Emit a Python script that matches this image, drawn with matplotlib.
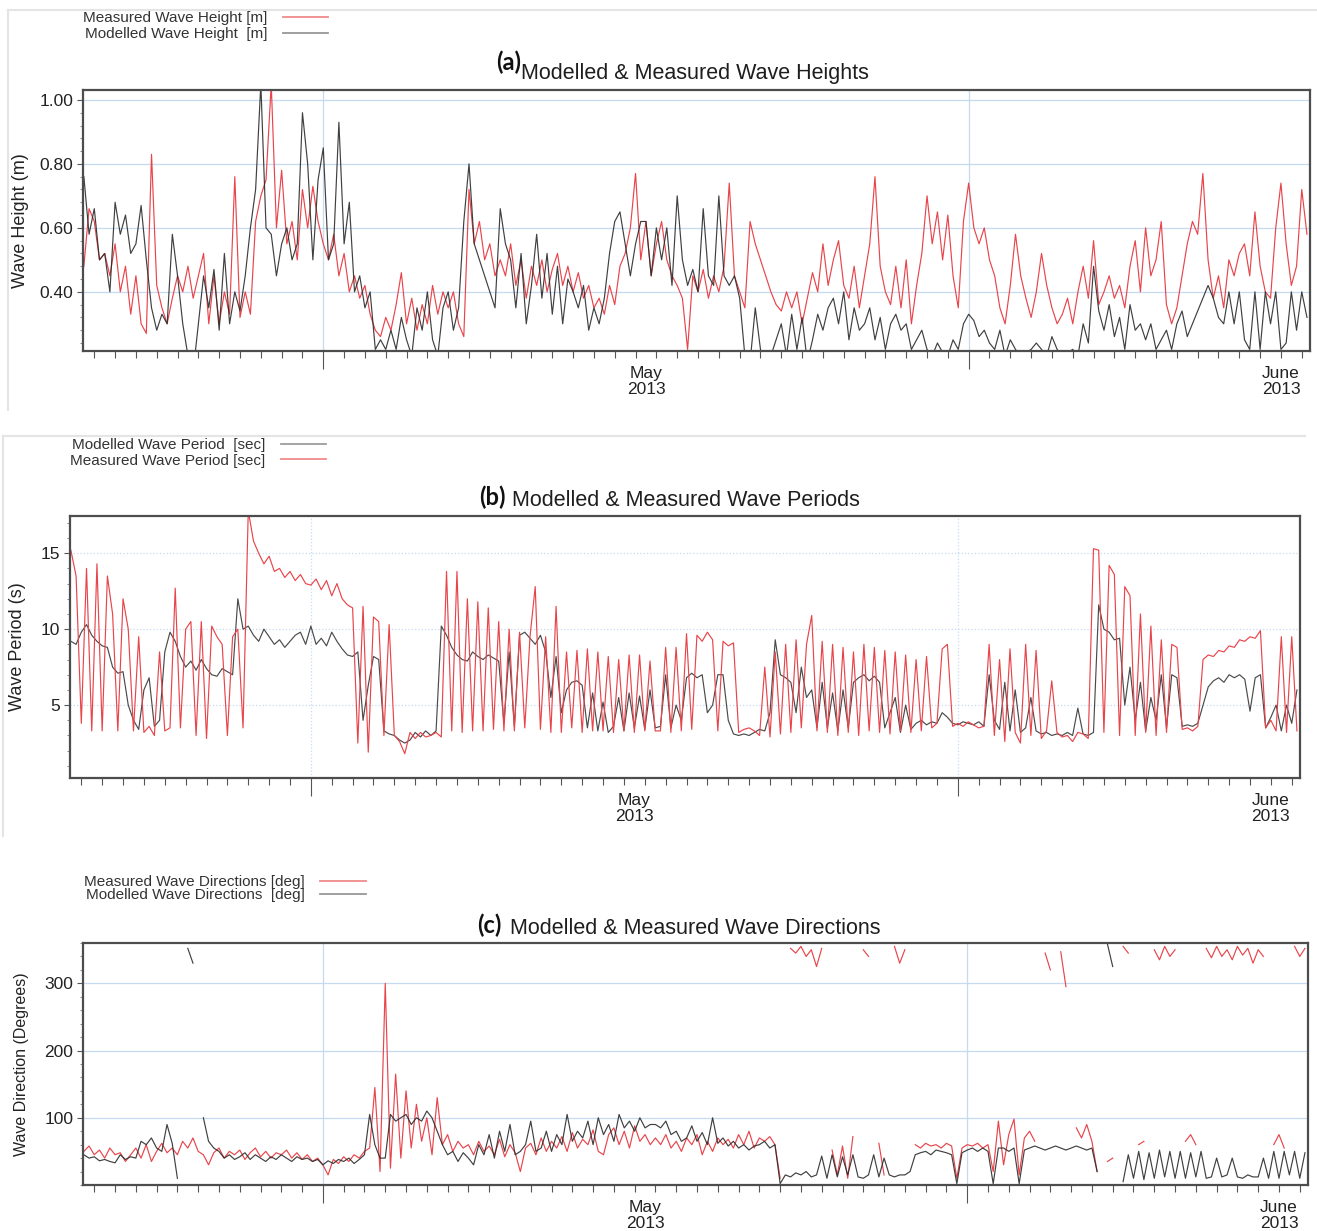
import numpy as np
import pandas as pd
import matplotlib
matplotlib.use("Agg")
import matplotlib.pyplot as plt
import matplotlib.dates as mdates
from matplotlib.ticker import AutoMinorLocator, FixedLocator, FormatStrFormatter, NullFormatter
from matplotlib.lines import Line2D

nan = np.nan

# 6-hourly samples from 4 Apr 2013 12:00 to 2 Jun 2013 06:00
times = pd.date_range("2013-04-04 12:00", periods=236, freq="6h")

# significant wave height [m]
height_meas = [
    0.48, 0.66, 0.62, 0.50, 0.52, 0.45, 0.55, 0.40, 0.48, 0.33,
    0.45, 0.30, 0.27, 0.83, 0.42, 0.35, 0.30, 0.38, 0.45, 0.40,
    0.48, 0.38, 0.45, 0.52, 0.30, 0.45, 0.30, 0.40, 0.33, 0.76,
    0.32, 0.40, 0.33, 0.62, 0.70, 0.75, 1.05, 0.60, 0.78, 0.55,
    0.62, 0.50, 0.72, 0.60, 0.73, 0.62, 0.55, 0.50, 0.58, 0.45,
    0.52, 0.40, 0.45, 0.38, 0.42, 0.33, 0.28, 0.26, 0.32, 0.28,
    0.36, 0.46, 0.30, 0.38, 0.28, 0.36, 0.30, 0.42, 0.33, 0.40,
    0.35, 0.40, 0.30, 0.26, 0.72, 0.55, 0.62, 0.50, 0.55, 0.45,
    0.50, 0.45, 0.55, 0.42, 0.50, 0.38, 0.48, 0.42, 0.50, 0.40,
    0.47, 0.52, 0.42, 0.48, 0.40, 0.46, 0.38, 0.42, 0.35, 0.38,
    0.33, 0.42, 0.36, 0.48, 0.52, 0.60, 0.77, 0.50, 0.62, 0.45,
    0.55, 0.62, 0.50, 0.45, 0.42, 0.38, 0.22, 0.45, 0.40, 0.47,
    0.38, 0.45, 0.40, 0.48, 0.74, 0.45, 0.40, 0.35, 0.62, 0.55,
    0.50, 0.45, 0.40, 0.36, 0.34, 0.40, 0.35, 0.40, 0.30, 0.38,
    0.46, 0.40, 0.55, 0.42, 0.50, 0.56, 0.42, 0.38, 0.48, 0.35,
    0.45, 0.55, 0.76, 0.48, 0.40, 0.36, 0.48, 0.35, 0.50, 0.30,
    0.42, 0.52, 0.70, 0.55, 0.65, 0.50, 0.64, 0.45, 0.35, 0.62,
    0.74, 0.60, 0.55, 0.60, 0.50, 0.45, 0.35, 0.30, 0.42, 0.58,
    0.45, 0.38, 0.32, 0.40, 0.52, 0.42, 0.35, 0.30, 0.33, 0.38,
    0.30, 0.40, 0.48, 0.38, 0.56, 0.36, 0.40, 0.45, 0.38, 0.42,
    0.35, 0.48, 0.56, 0.40, 0.60, 0.45, 0.50, 0.62, 0.36, 0.30,
    0.35, 0.45, 0.55, 0.62, 0.58, 0.77, 0.50, 0.38, 0.45, 0.35,
    0.50, 0.45, 0.52, 0.55, 0.45, 0.65, 0.48, 0.40, 0.38, 0.60,
    0.74, 0.55, 0.42, 0.48, 0.72, 0.58,
]
height_mod = [
    0.76, 0.58, 0.66, 0.50, 0.52, 0.40, 0.68, 0.58, 0.64, 0.52,
    0.55, 0.67, 0.50, 0.35, 0.28, 0.33, 0.30, 0.58, 0.45, 0.30,
    0.20, 0.15, 0.30, 0.45, 0.35, 0.47, 0.28, 0.52, 0.30, 0.40,
    0.34, 0.45, 0.60, 0.72, 1.05, 0.60, 0.58, 0.45, 0.55, 0.60,
    0.50, 0.55, 0.96, 0.80, 0.50, 0.75, 0.85, 0.50, 0.55, 0.93,
    0.55, 0.68, 0.40, 0.45, 0.35, 0.40, 0.22, 0.25, 0.22, 0.28,
    0.22, 0.32, 0.25, 0.20, 0.35, 0.28, 0.40, 0.25, 0.20, 0.35,
    0.40, 0.28, 0.35, 0.62, 0.80, 0.55, 0.50, 0.45, 0.40, 0.35,
    0.66, 0.55, 0.50, 0.35, 0.52, 0.30, 0.42, 0.58, 0.38, 0.52,
    0.33, 0.48, 0.30, 0.44, 0.40, 0.35, 0.42, 0.28, 0.35, 0.30,
    0.38, 0.52, 0.62, 0.65, 0.55, 0.45, 0.55, 0.62, 0.62, 0.45,
    0.60, 0.50, 0.60, 0.42, 0.70, 0.50, 0.42, 0.47, 0.40, 0.66,
    0.45, 0.42, 0.70, 0.45, 0.42, 0.45, 0.38, 0.20, 0.18, 0.35,
    0.22, 0.18, 0.20, 0.25, 0.30, 0.20, 0.33, 0.22, 0.32, 0.18,
    0.25, 0.33, 0.28, 0.35, 0.38, 0.30, 0.40, 0.25, 0.35, 0.28,
    0.30, 0.35, 0.25, 0.32, 0.22, 0.30, 0.33, 0.28, 0.30, 0.22,
    0.25, 0.28, 0.22, 0.20, 0.24, 0.21, 0.20, 0.25, 0.22, 0.30,
    0.33, 0.31, 0.26, 0.28, 0.24, 0.22, 0.28, 0.20, 0.25, 0.22,
    0.20, 0.21, 0.22, 0.24, 0.22, 0.20, 0.26, 0.22, 0.20, 0.21,
    0.22, 0.20, 0.30, 0.24, 0.48, 0.34, 0.28, 0.36, 0.26, 0.32,
    0.22, 0.36, 0.28, 0.30, 0.25, 0.30, 0.22, 0.25, 0.28, 0.22,
    0.30, 0.34, 0.26, 0.30, 0.34, 0.38, 0.42, 0.38, 0.32, 0.30,
    0.40, 0.30, 0.40, 0.25, 0.22, 0.40, 0.22, 0.40, 0.30, 0.40,
    0.22, 0.24, 0.40, 0.28, 0.40, 0.32,
]

# peak wave period [s]
period_meas = [
    15.2, 13.5, 3.8, 14.0, 3.3, 14.3, 3.3, 13.5, 11.0, 3.3,
    12.0, 10.0, 3.3, 9.5, 3.2, 3.6, 3.0, 8.5, 3.3, 3.5,
    12.7, 3.5, 10.0, 10.5, 3.0, 10.5, 2.8, 10.2, 9.5, 9.0,
    3.0, 9.5, 10.0, 3.5, 17.8, 15.8, 15.0, 14.3, 14.8, 13.8,
    14.0, 13.4, 13.8, 13.2, 13.6, 13.0, 12.9, 13.3, 12.6, 13.2,
    12.2, 13.0, 12.0, 11.6, 11.4, 2.5, 11.5, 1.9, 10.8, 10.5,
    3.0, 10.3, 3.0, 2.6, 1.8, 3.2, 2.8, 3.2, 2.9, 3.0,
    3.2, 2.9, 13.8, 3.3, 13.8, 3.2, 12.0, 3.3, 11.8, 3.3,
    11.4, 3.4, 10.5, 3.3, 10.0, 3.3, 9.8, 3.5, 9.5, 12.8,
    3.4, 9.5, 3.2, 11.5, 3.2, 8.5, 3.5, 8.6, 3.2, 8.7,
    3.3, 8.5, 3.3, 8.2, 3.2, 8.0, 3.3, 8.3, 3.2, 8.3,
    3.3, 7.9, 3.3, 3.3, 8.8, 3.2, 8.8, 3.3, 9.7, 3.4,
    9.6, 9.2, 9.8, 9.3, 3.3, 9.2, 8.9, 9.1, 3.2, 3.4,
    3.5, 3.3, 3.0, 7.5, 2.9, 8.5, 3.1, 9.0, 3.2, 9.3,
    3.5, 9.0, 10.9, 3.3, 9.2, 3.2, 9.0, 3.0, 8.8, 3.2,
    8.5, 3.0, 9.0, 3.3, 8.8, 3.2, 8.6, 3.1, 8.5, 3.3,
    8.3, 3.2, 8.0, 3.3, 8.2, 3.5, 3.8, 8.7, 9.0, 3.6,
    3.8, 3.6, 3.9, 3.7, 3.5, 3.6, 9.0, 3.0, 8.0, 2.6,
    8.7, 3.2, 2.5, 9.0, 3.0, 8.6, 2.8, 3.3, 6.6, 3.2,
    2.9, 3.0, 2.6, 3.2, 3.1, 2.8, 15.3, 15.2, 3.2, 14.2,
    13.6, 3.0, 12.8, 12.2, 3.0, 11.0, 3.2, 10.2, 3.0, 9.3,
    3.2, 9.0, 8.8, 3.4, 3.5, 3.3, 3.6, 8.0, 8.3, 8.2,
    8.6, 8.5, 8.9, 8.8, 9.3, 9.2, 9.5, 9.4, 9.9, 3.5,
    4.0, 3.3, 9.5, 3.2, 9.5, 3.3,
]
period_mod = [
    9.2, 9.0, 9.8, 10.3, 9.6, 9.2, 8.9, 8.8, 7.5, 7.1,
    7.2, 5.0, 4.0, 3.4, 6.0, 6.8, 3.6, 4.0, 8.5, 9.8,
    9.2, 8.2, 7.5, 7.9, 7.3, 8.0, 7.4, 7.0, 6.9, 7.4,
    7.2, 7.0, 12.0, 10.0, 10.2, 9.6, 9.2, 10.0, 9.5, 9.0,
    9.3, 8.8, 9.2, 9.6, 9.8, 9.0, 10.2, 9.0, 9.4, 8.9,
    9.8, 9.2, 8.7, 8.3, 8.2, 8.5, 4.0, 6.3, 8.2, 8.0,
    3.3, 3.1, 3.0, 2.7, 2.5, 2.7, 3.2, 2.9, 3.3, 3.0,
    3.3, 10.2, 9.6, 8.8, 8.3, 8.0, 7.9, 8.5, 8.2, 8.0,
    8.3, 8.1, 7.9, 3.8, 8.5, 3.6, 9.6, 9.8, 9.4, 9.0,
    9.6, 8.5, 5.5, 8.2, 4.5, 6.0, 6.5, 6.6, 6.3, 3.5,
    5.8, 3.3, 5.2, 3.2, 3.6, 5.5, 3.3, 5.8, 3.5, 5.6,
    3.4, 6.0, 3.5, 3.6, 7.0, 3.5, 5.0, 4.0, 6.8, 7.1,
    6.8, 7.0, 4.5, 5.0, 7.0, 7.0, 4.0, 3.1, 3.0, 3.1,
    3.0, 3.2, 3.4, 3.3, 4.5, 9.3, 7.0, 6.8, 6.5, 4.5,
    7.5, 5.5, 6.0, 3.5, 6.5, 3.5, 5.8, 3.3, 6.0, 3.5,
    6.5, 6.8, 7.0, 6.6, 6.9, 6.5, 3.5, 4.5, 5.5, 3.2,
    5.0, 3.4, 3.8, 4.0, 3.7, 3.9, 3.8, 4.5, 4.2, 3.8,
    3.7, 3.9, 3.8, 3.7, 3.9, 3.6, 7.0, 4.0, 3.4, 6.5,
    3.3, 6.0, 3.2, 3.5, 5.5, 3.3, 3.1, 3.2, 3.0, 3.1,
    3.0, 3.2, 3.0, 4.8, 3.1, 3.0, 3.2, 11.6, 10.0, 9.8,
    9.3, 9.4, 5.0, 7.5, 4.0, 6.5, 3.3, 5.5, 4.0, 7.0,
    3.5, 7.0, 6.8, 3.6, 3.7, 3.6, 3.8, 5.0, 6.2, 6.6,
    6.8, 6.5, 7.0, 6.8, 7.0, 6.7, 4.6, 6.8, 7.0, 3.5,
    4.2, 5.0, 3.3, 5.0, 3.8, 6.0,
]

# mean wave direction [deg]; nan = no record
dir_meas = [
    50, 58, 45, 52, 40, 55, 45, 48, 35, 45,
    55, 40, 60, 35, 50, 62, 48, 55, 45, 65,
    55, 70, 50, 45, 30, 48, 55, 40, 50, 45,
    52, 38, 48, 55, 42, 50, 40, 48, 45, 52,
    40, 48, 38, 45, 35, 40, 30, 15, 38, 32,
    42, 35, 45, 40, 50, 55, 145, 20, 300, 25,
    165, 40, 140, 55, 120, 65, 100, 45, 130, 60,
    75, 50, 65, 55, 60, 45, 65, 50, 58, 45,
    68, 42, 60, 48, 20, 55, 62, 45, 70, 50,
    65, 55, 72, 50, 78, 55, 68, 60, 82, 50,
    45, 75, 85, 60, 80, 55, 88, 65, 75, 60,
    70, 60, 75, 55, 65, 50, 70, 60, 75, 45,
    65, 50, 70, 60, 68, 55, 75, 60, 80, 55,
    70, 65, 72, 60, 10, nan, 352, 345, 355, 340,
    350, 325, 352, nan, 52, 15, 58, 10, 72, nan,
    350, 340, nan, 62, 15, nan, 355, 330, 350, nan,
    60, 55, 62, 58, 60, 55, 62, 58, 10, 55,
    60, 58, 62, 55, 60, 20, 95, 30, 75, 98,
    15, 70, 80, 65, nan, 345, 320, nan, 347, 295,
    nan, 85, 70, 90, 65, 20, nan, 35, 40, nan,
    355, 345, nan, 60, 65, nan, 350, 335, 355, 340,
    350, nan, 65, 75, 60, nan, 352, 338, 355, 340,
    350, 335, 355, 342, 352, 330, 350, 340, nan, 60,
    75, 55, nan, 355, 340, 352,
]
dir_mod = [
    45, 40, 42, 36, 38, 35, 33, 45, 38, 42,
    40, 65, 60, 70, 55, 50, 90, 62, 10, nan,
    352, 330, nan, 100, 65, 55, 50, 40, 45, 38,
    42, 48, 38, 45, 40, 35, 42, 38, 45, 40,
    35, 42, 38, 40, 35, 38, 30, 36, 32, 38,
    35, 40, 32, 38, 45, 105, 60, 40, 40, 105,
    95, 100, 105, 90, 100, 95, 110, 100, 80, 60,
    45, 50, 35, 48, 40, 30, 60, 45, 75, 40,
    80, 50, 90, 45, 50, 60, 95, 50, 55, 80,
    50, 75, 60, 105, 65, 80, 70, 95, 60, 100,
    75, 90, 65, 105, 85, 95, 80, 100, 85, 90,
    90, 85, 95, 75, 80, 65, 70, 88, 65, 78,
    60, 100, 62, 70, 58, 65, 55, 60, 52, 58,
    60, 65, 55, 60, 2, 15, 12, 18, 15, 20,
    12, 15, 43, 10, 45, 12, 42, 15, 45, 12,
    10, 15, 45, 12, 40, 15, 12, 15, 15, 20,
    45, 48, 50, 45, 52, 50, 48, 45, 2, 48,
    52, 55, 50, 55, 50, 2, 55, 55, 50, 55,
    2, 52, 55, 58, 55, 52, 55, 58, 55, 52,
    55, 58, 55, 52, 55, 20, nan, 358, 325, nan,
    5, 45, 10, 50, 8, 48, 10, 52, 12, 50,
    10, 50, 10, 48, 12, 50, 10, 12, 40, 12,
    15, 40, 12, 10, 15, 12, 12, 40, 10, 50,
    10, 50, 15, 50, 10, 48,
]

# time axis furniture
x_range = ["2013-04-04 11:00", "2013-06-02 09:30"]
grid_dates = ["2013-04-16", "2013-05-17"]
day_ticks = pd.date_range("2013-04-05", "2013-06-02", freq="D")
month_dates = ["2013-05-01 12:00", "2013-06-01 00:00"]
month_labels = ["May\n2013", "June\n2013"]

W, H = 1317, 1231
RED = "#e8454b"
DARK = "#2b2b2b"
GRID = "#c6daf2"

plt.rcParams["font.family"] = ["Liberation Sans", "DejaVu Sans"]


def dnum(d):
    return mdates.date2num(pd.to_datetime(d).values)


def px_box(left, top, right, bottom):
    return [left / W, 1 - bottom / H, (right - left) / W, (bottom - top) / H]


def fx(x):
    return x / W


def fy(y):
    return 1 - y / H


def style_axes(ax, ylim, yticks, yfmt, grid_ls):
    ax.set_xlim(*dnum(x_range))
    ax.set_ylim(*ylim)
    ax.xaxis.set_major_locator(FixedLocator(dnum(grid_dates)))
    ax.xaxis.set_minor_locator(FixedLocator(dnum(day_ticks)))
    ax.xaxis.set_major_formatter(NullFormatter())
    ax.set_yticks(yticks)
    ax.yaxis.set_major_formatter(FormatStrFormatter(yfmt))
    ax.yaxis.set_minor_locator(AutoMinorLocator(5))
    ax.tick_params(axis="x", which="major", length=13, width=0.8, color="#555555")
    ax.tick_params(axis="x", which="minor", length=5, width=0.8, color="#555555")
    ax.tick_params(axis="y", which="major", length=4, width=0.8, color="#555555",
                   labelsize=12.5, labelcolor="#222222", pad=3)
    ax.tick_params(axis="y", which="minor", length=2.5, width=0.6, color="#777777")
    ax.grid(True, which="major", color=GRID, lw=0.9, ls=grid_ls)
    for s in ax.spines.values():
        s.set_color("#4d4d4d")
        s.set_linewidth(1.6)
    for d, lab in zip(dnum(month_dates), month_labels):
        ax.annotate(lab, xy=(d, 0), xycoords=("data", "axes fraction"),
                    xytext=(0, -11), textcoords="offset points",
                    ha="center", va="top", fontsize=12.5, color="#222222",
                    linespacing=1.05)


def add_legend(ax, handles, labels, left, top, spacing):
    leg = ax.legend(handles, labels, loc="upper left",
                    bbox_to_anchor=(fx(left), fy(top)), bbox_transform=fig.transFigure,
                    frameon=False, markerfirst=False, fontsize=11,
                    handlelength=3.0, handletextpad=1.0, borderpad=0,
                    borderaxespad=0, labelspacing=spacing)
    for t in leg.get_texts():
        t.set_color("#333333")
    for ln in leg.get_lines():
        ln.set_linewidth(1.3)
        ln.set_color("#f08a8a" if ln.get_color() == RED else "#8c8c8c")
    return leg


def add_title(tag, text, tag_right, tag_y, text_left, text_y):
    fig.text(fx(tag_right), fy(tag_y), tag, ha="right", va="center",
             fontsize=17, fontweight="bold", family=["Lato", "DejaVu Sans"], color="#111111")
    fig.text(fx(text_left), fy(text_y), text, ha="left", va="center",
             fontsize=15.5, color="#1e1e1e")


fig = plt.figure(figsize=(W / 100, H / 100), dpi=100)
t = mdates.date2num(times.values)

# faint frames around the upper two panels
for xs, ys in [([8, 1317], [10, 10]), ([8, 8], [10, 410]),
               ([3, 1305], [436, 436]), ([3, 3], [436, 836])]:
    fig.add_artist(Line2D([fx(v) for v in xs], [fy(v) for v in ys],
                          transform=fig.transFigure, color="#e4e4e4", lw=1.5))

# (a) wave heights
ax1 = fig.add_axes(px_box(83, 90, 1310, 351))
m1, = ax1.plot(t, height_meas, color=RED, lw=0.85)
d1, = ax1.plot(t, height_mod, color=DARK, lw=0.85, alpha=0.9)
style_axes(ax1, (0.215, 1.031), [0.4, 0.6, 0.8, 1.0], "%.2f", "-")
ax1.set_ylabel("Wave Height (m)", fontsize=13, color="#222222", va="center")
ax1.yaxis.set_label_coords(-0.0513, 0.5)
add_legend(ax1, [m1, d1], ["Measured Wave Height [m]", "Modelled Wave Height  [m]"],
           83, 11, 0.15)
add_title("(a)", "Modelled & Measured Wave Heights", 521, 62, 521, 74)

# (b) wave periods
ax2 = fig.add_axes(px_box(70, 516, 1300, 778))
d2, = ax2.plot(t, period_mod, color=DARK, lw=0.85, alpha=0.85)
m2, = ax2.plot(t, period_meas, color=RED, lw=0.85)
style_axes(ax2, (0.2, 17.45), [5, 10, 15], "%d", ":")
ax2.set_ylabel("Wave Period (s)", fontsize=13, color="#222222", va="center")
ax2.yaxis.set_label_coords(-0.0423, 0.5)
add_legend(ax2, [d2, m2], ["Modelled Wave Period  [sec]", "Measured Wave Period [sec]"],
           70, 438, 0.1)
add_title("(b)", "Modelled & Measured Wave Periods", 506, 497, 512, 500)

# (c) wave directions
ax3 = fig.add_axes(px_box(83, 943, 1308, 1185))
m3, = ax3.plot(t, dir_meas, color=RED, lw=0.85)
d3, = ax3.plot(t, dir_mod, color=DARK, lw=0.85, alpha=0.9)
style_axes(ax3, (0, 360), [100, 200, 300], "%d", "-")
ax3.set_ylabel("Wave Direction (Degrees)", fontsize=11.5, color="#222222", va="center")
ax3.yaxis.set_label_coords(-0.0498, 0.5)
add_legend(ax3, [m3, d3], ["Measured Wave Directions [deg]", "Modelled Wave Directions  [deg]"],
           84, 875, -0.05)
add_title("(c)", "Modelled & Measured Wave Directions", 502, 925, 510, 928)

fig.savefig("out.png", dpi=100)
